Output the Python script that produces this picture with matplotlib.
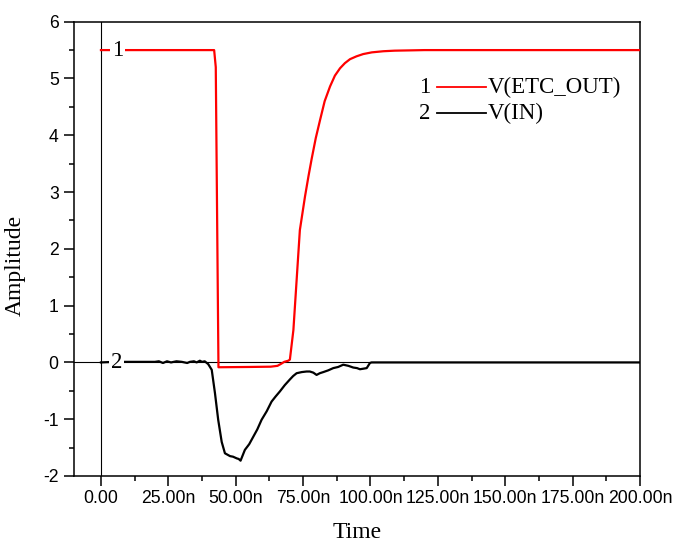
import numpy as np
import matplotlib
matplotlib.use('Agg')
import matplotlib.pyplot as plt
from matplotlib.ticker import FixedLocator, MultipleLocator, FuncFormatter

plt.rcParams['axes.unicode_minus'] = False

# time in ns
t_out = [0, 42.0, 42.6, 43.6, 55, 63, 65.5, 67, 68, 69.5, 70.1, 71.4, 72.6,
         73.8, 75.7, 77, 78.2, 79.7, 81.3, 83, 85, 86.8, 88.7, 90.5, 92.4,
         94.8, 97.3, 100.5, 104.8, 109, 114.7, 120, 125, 140, 200]
v_out = [5.5, 5.5, 5.2, -0.085, -0.08, -0.075, -0.06, -0.02, 0.01, 0.03, 0.05,
         0.57, 1.45, 2.33, 2.92, 3.28, 3.59, 3.95, 4.27, 4.6, 4.86, 5.05,
         5.18, 5.27, 5.34, 5.39, 5.43, 5.46, 5.48, 5.49, 5.495, 5.5, 5.5,
         5.5, 5.5]

t_in = [0, 5, 10, 15, 20, 21.5, 23, 24.5, 26, 28, 30, 32, 33, 34.5, 35.5,
        36.7, 37.5, 38.5, 39.8, 41.1, 42.3, 43.5, 44.8, 46, 47.9, 49, 50.4,
        51.1, 51.8, 53.4, 55, 56.5, 58, 59.6, 61.5, 63.3, 64.8, 66.4, 68.2,
        70.1, 71.3, 72.6, 74.5, 76.3, 77.5, 78.8, 80, 81.2, 82.5, 84.3, 86.2,
        88, 89.9, 91.8, 93.6, 95, 96.1, 97.4, 98.6, 99.8, 100.4, 200]
v_in = [0.0, 0.01, 0.01, 0.01, 0.01, 0.02, -0.01, 0.02, 0.0, 0.02, 0.01,
        -0.01, 0.01, 0.02, 0.0, 0.03, 0.01, 0.02, -0.03, -0.13, -0.54, -1.01,
        -1.4, -1.6, -1.65, -1.66, -1.69, -1.7, -1.73, -1.54, -1.44, -1.31,
        -1.18, -1.01, -0.86, -0.69, -0.6, -0.51, -0.4, -0.3, -0.24, -0.19,
        -0.17, -0.16, -0.16, -0.18, -0.22, -0.19, -0.17, -0.14, -0.1, -0.08,
        -0.04, -0.06, -0.09, -0.1, -0.12, -0.11, -0.1, -0.01, 0.0, 0.0]

x_ticks = [0, 25, 50, 75, 100, 125, 150, 175, 200]
y_ticks = [-2, -1, 0, 1, 2, 3, 4, 5, 6]
names = ['V(ETC_OUT)', 'V(IN)']
colors = ['#ff0000', '#000000']

serif = 'Liberation Serif'
sans = 'Liberation Sans'

fig = plt.figure(figsize=(6.74, 5.42), dpi=100)
ax = fig.add_axes([74 / 674, 66 / 542, 566 / 674, 454.3 / 542])

# reference lines through the origin
ax.axhline(0, color='k', lw=0.8, zorder=1)
ax.axvline(0, color='k', lw=0.8, zorder=1)

ax.plot(t_out, v_out, color=colors[0], lw=1.6, zorder=3)
ax.plot(t_in, v_in, color=colors[1], lw=1.6, zorder=2)

# curve labels on the traces
box = dict(facecolor='white', edgecolor='none', pad=1.5)
ax.text(6.1, 5.5, '1', family=serif, fontsize=16.5, ha='center', va='center',
        bbox=box, zorder=4)
ax.text(5.8, 0, '2', family=serif, fontsize=16.5, ha='center', va='center',
        bbox=box, zorder=4)

ax.set_xlim(-10, 200)
ax.set_ylim(-2, 6)

ax.xaxis.set_major_locator(FixedLocator(x_ticks))
ax.xaxis.set_minor_locator(FixedLocator([v + 12.5 for v in x_ticks[:-1]]))
ax.xaxis.set_major_formatter(FuncFormatter(
    lambda v, p: '0.00' if v == 0 else '%.2fn' % v))
ax.yaxis.set_major_locator(FixedLocator(y_ticks))
ax.yaxis.set_minor_locator(MultipleLocator(0.5))

ax.tick_params(which='both', direction='out', top=False, right=False,
               width=1.1, colors='k')
ax.tick_params(which='major', length=7)
ax.tick_params(which='minor', length=3.6)
ax.tick_params(axis='y', pad=4)
ax.tick_params(axis='x', pad=3)
for lab in ax.get_xticklabels() + ax.get_yticklabels():
    lab.set_family(sans)
    lab.set_fontsize(12.7)

for s in ax.spines.values():
    s.set_linewidth(1.1)

ax.set_xlabel('Time', family=serif, fontsize=17)
ax.set_ylabel('Amplitude', family=serif, fontsize=17)
ax.xaxis.set_label_coords(0.5, -0.102)
ax.yaxis.set_label_coords(-0.085, 0.464)

# legend, drawn Origin-style with numbered entries
for i, (name, c) in enumerate(zip(names, colors)):
    y = 0.856 - i * 0.057
    ax.text(0.620, y, str(i + 1), family=serif, fontsize=16.5, ha='center',
            va='center', transform=ax.transAxes)
    ax.plot([0.641, 0.728], [y, y], color=c, lw=1.3, transform=ax.transAxes)
    ax.text(0.731, y, name, family=serif, fontsize=16.5, ha='left',
            va='center', transform=ax.transAxes)

fig.savefig('out.png', dpi=100)
